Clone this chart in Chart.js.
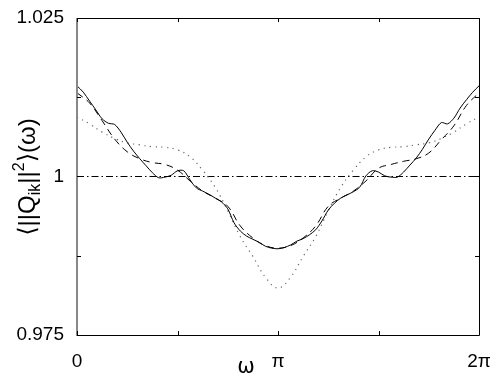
<!DOCTYPE html>
<html>
<head>
<meta charset="utf-8">
<script src="https://cdn.jsdelivr.net/npm/chart.js@4/dist/chart.umd.min.js"></script>
<style>
  body { margin: 0; background: #fff; }
  canvas { display: block; }
</style>
</head>
<body>
<canvas id="chart" width="498" height="383"></canvas>
<script>
"use strict";

// solid curve, sampled every pi/32 from 0 to 2pi
const solidValues = [1.0143, 1.0133, 1.0119, 1.0105, 1.0091, 1.0084, 1.0082, 1.0070, 1.0054, 1.0040,
  1.0028, 1.0017, 1.0006, 0.9998, 0.9999, 1.0002, 1.0009, 1.0009, 0.99945, 0.9982,
  0.9977, 0.9972, 0.9966, 0.9960, 0.9949, 0.9927, 0.9914, 0.9906, 0.9901, 0.9896,
  0.9890, 0.9887, 0.9886, 0.9888, 0.9892, 0.9898, 0.9902, 0.9908, 0.9916, 0.9930,
  0.9947, 0.9958, 0.9966, 0.9971, 0.9976, 0.9983, 1.0001, 1.0009, 1.0007, 1.0001,
  0.9999, 0.9999, 1.0007, 1.0018, 1.0029, 1.0043, 1.0059, 1.0073, 1.0085, 1.0083,
  1.0092, 1.0108, 1.0121, 1.0133, 1.0143];

// dashed and dotted curves, sampled every pi/16
const dashedValues = [1.0132, 1.0116, 1.0088, 1.0059, 1.0039, 1.0028, 1.0022, 1.0019, 1.0010, 0.9993,
  0.9977, 0.9966, 0.9953, 0.9922, 0.9903, 0.9891, 0.9887, 0.9891, 0.9903, 0.9922,
  0.9953, 0.9966, 0.9977, 0.9993, 1.0013, 1.0019, 1.0024, 1.0028, 1.0037, 1.0058,
  1.0080, 1.0112, 1.0132];
const dottedValues = [1.0094, 1.0083, 1.0070, 1.0060, 1.0053, 1.0050, 1.0047, 1.0046, 1.0042, 1.0031,
  1.0010, 0.9983, 0.9946, 0.9905, 0.9874, 0.9841, 0.9824, 0.9841, 0.9874, 0.9905,
  0.9946, 0.9983, 1.0010, 1.0031, 1.0042, 1.0046, 1.0047, 1.0050, 1.0053, 1.0060,
  1.0070, 1.0083, 1.0094];

// reference level
const refOmega = [0, 2 * Math.PI];
const refValues = [1, 1];

// ticks
const xTickValues = [0, 0.5 * Math.PI, Math.PI, 1.5 * Math.PI, 2 * Math.PI];
const xTickLabels = ["0", "", "\u03c0", "", "2\u03c0"];
const yTickValues = [0.975, 0.9875, 1, 1.0125, 1.025];
const yTickLabels = ["0.975", "", "1", "", "1.025"];

function toPoints(values, step) {
  return values.map((v, i) => ({ x: i * step, y: v }));
}

const tickFont = { family: "'Liberation Sans', Arial, sans-serif", size: 19 };

// box around the plot with MATLAB-style inward ticks
const boxPlugin = {
  id: "box",
  afterDatasetsDraw(chart) {
    const { ctx, chartArea: a, scales } = chart;
    ctx.save();
    ctx.strokeStyle = "#000";
    ctx.lineWidth = 1;
    ctx.beginPath();
    ctx.moveTo(a.left, a.top + 0.5);
    ctx.lineTo(a.right + 0.5, a.top + 0.5);
    ctx.lineTo(a.right + 0.5, a.bottom + 0.5);
    ctx.lineTo(a.left, a.bottom + 0.5);
    ctx.stroke();
    ctx.strokeStyle = "#888";
    ctx.lineWidth = 2;
    ctx.beginPath();
    ctx.moveTo(a.left, a.top);
    ctx.lineTo(a.left, a.bottom + 1);
    ctx.stroke();

    ctx.strokeStyle = "#000";
    ctx.lineWidth = 1;
    ctx.beginPath();
    xTickValues.forEach((v) => {
      const px = Math.round(scales.x.getPixelForValue(v)) + 0.5;
      ctx.moveTo(px, a.top);
      ctx.lineTo(px, a.top + 4);
      ctx.moveTo(px, a.bottom);
      ctx.lineTo(px, a.bottom - 4);
    });
    yTickValues.forEach((v) => {
      const py = Math.round(scales.y.getPixelForValue(v)) + 0.5;
      ctx.moveTo(a.left, py);
      ctx.lineTo(a.left + 4, py);
      ctx.moveTo(a.right, py);
      ctx.lineTo(a.right - 4, py);
    });
    ctx.stroke();
    ctx.restore();
  },
  afterDraw(chart) {
    const ctx = chart.ctx;
    ctx.save();
    ctx.fillStyle = "#000";

    // x axis title
    ctx.font = "21px 'DejaVu Sans', sans-serif";
    ctx.textAlign = "center";
    ctx.textBaseline = "alphabetic";
    ctx.fillText("\u03c9", 246, 373);

    // y axis title with sub/superscripts
    const big = "24px 'Liberation Sans', 'DejaVu Sans', sans-serif";
    const small = "16px 'Liberation Sans', 'DejaVu Sans', sans-serif";
    const parts = [
      { t: "\u27e8||Q", f: big, dy: 0 },
      { t: "ik", f: small, dy: 5 },
      { t: "||", f: big, dy: 0 },
      { t: "2", f: small, dy: -11 },
      { t: "\u27e9(\u03c9)", f: big, dy: 0 },
    ];
    let total = 0;
    parts.forEach((p) => {
      ctx.font = p.f;
      p.w = ctx.measureText(p.t).width;
      total += p.w;
    });
    ctx.translate(35, 177);
    ctx.rotate(-Math.PI / 2);
    ctx.textAlign = "left";
    let cx = -total / 2;
    parts.forEach((p) => {
      ctx.font = p.f;
      ctx.fillText(p.t, cx, p.dy);
      cx += p.w;
    });
    ctx.restore();
  },
};

const config = {
  type: "line",
  data: {
    datasets: [
      {
        label: "solid",
        data: toPoints(solidValues, Math.PI / 32),
        borderColor: "#000",
        borderWidth: 1,
        pointRadius: 0,
        tension: 0.3,
      },
      {
        label: "dashed",
        data: toPoints(dashedValues, Math.PI / 16),
        borderColor: "#000",
        borderWidth: 1,
        borderDash: [7, 5],
        pointRadius: 0,
        tension: 0.4,
      },
      {
        label: "dotted",
        data: toPoints(dottedValues, Math.PI / 16),
        borderColor: "#666",
        borderWidth: 1.2,
        borderDash: [1.2, 4.5],
        pointRadius: 0,
        tension: 0.4,
      },
      {
        label: "reference",
        data: refOmega.map((x, i) => ({ x: x, y: refValues[i] })),
        borderColor: "#000",
        borderWidth: 1,
        borderDash: [7, 3, 1.5, 3],
        pointRadius: 0,
      },
    ],
  },
  options: {
    responsive: false,
    devicePixelRatio: 1,
    animation: false,
    layout: { padding: { top: 18, right: 19, left: 0, bottom: 0 } },
    plugins: { legend: { display: false }, tooltip: { enabled: false } },
    scales: {
      x: {
        type: "linear",
        min: 0,
        max: 2 * Math.PI,
        grid: { display: false },
        border: { display: false },
        afterBuildTicks: (scale) => {
          scale.ticks = xTickValues.map((v) => ({ value: v }));
        },
        afterFit: (scale) => {
          scale.height = 48;
        },
        ticks: {
          autoSkip: false,
          maxRotation: 0,
          padding: 7,
          color: "#000",
          font: tickFont,
          callback: (value, index) => xTickLabels[index],
        },
      },
      y: {
        min: 0.975,
        max: 1.025,
        grid: { display: false },
        border: { display: false },
        afterBuildTicks: (scale) => {
          scale.ticks = yTickValues.map((v) => ({ value: v }));
        },
        afterFit: (scale) => {
          scale.width = 77;
        },
        ticks: {
          autoSkip: false,
          padding: 5,
          color: "#000",
          font: tickFont,
          callback: (value, index) => yTickLabels[index],
        },
      },
    },
  },
  plugins: [boxPlugin],
};

const myChart = new Chart(document.getElementById("chart"), config);
</script>
</body>
</html>
